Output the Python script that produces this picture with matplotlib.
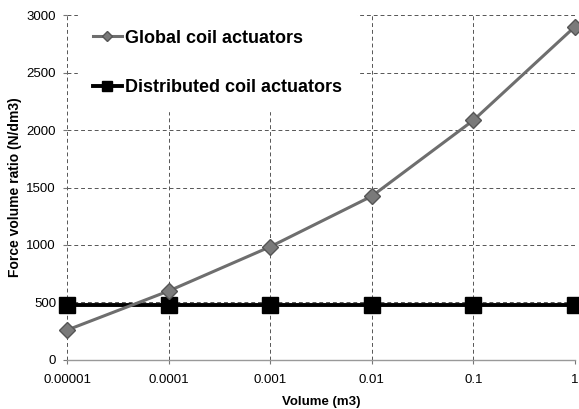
"""
Force volume ratio vs. actuator volume — global vs. distributed coil actuators.
"""

import matplotlib
matplotlib.use("Agg")
import matplotlib.pyplot as plt

# ── Data ──────────────────────────────────────────────────────────────────────
VOLUMES = [0.00001, 0.0001, 0.001, 0.01, 0.1, 1]
X_TICK_LABELS = ["0.00001", "0.0001", "0.001", "0.01", "0.1", "1"]
GLOBAL_RATIO = [260, 600, 985, 1425, 2085, 2900]
DISTRIBUTED_RATIO = [480, 480, 480, 480, 480, 480]
Y_TICKS = [0, 500, 1000, 1500, 2000, 2500, 3000]

plt.rcParams["font.family"] = ["Liberation Sans", "DejaVu Sans"]

fig = plt.figure(figsize=(5.79, 4.09), dpi=100)
ax = fig.add_axes([0.116, 0.12, 0.877, 0.843])

ax.plot(VOLUMES, GLOBAL_RATIO, color="#6e6e6e", lw=2.2, marker="D",
        ms=8, mfc="#7a7a7a", mec="#555555", clip_on=False, zorder=4,
        label="Global coil actuators")
ax.plot(VOLUMES, DISTRIBUTED_RATIO, color="black", lw=2.8, marker="s",
        ms=11, mfc="black", mec="black", clip_on=False, zorder=3,
        label="Distributed coil actuators")

ax.set_xscale("log")
ax.set_xlim(VOLUMES[0], VOLUMES[-1])
ax.set_xticks(VOLUMES)
ax.set_xticklabels(X_TICK_LABELS)
ax.minorticks_off()
ax.set_ylim(0, 3000)
ax.set_yticks(Y_TICKS)

# dashed grid, only the bottom axis drawn solid
ax.grid(True, ls=(0, (4, 3)), color="#555555", lw=0.7)
for side in ["top", "right", "left"]:
    ax.spines[side].set_visible(False)
ax.spines["bottom"].set_color("#999999")
ax.spines["bottom"].set_linewidth(1.0)
ax.tick_params(axis="both", labelsize=9.5, length=3, color="#777777")
ax.tick_params(axis="x", pad=7)
ax.tick_params(axis="y", pad=5)

ax.set_xlabel("Volume (m3)", fontsize=9.5, fontweight="bold", labelpad=7)
ax.set_ylabel("Force volume ratio (N/dm3)", fontsize=10, fontweight="bold", labelpad=3)

leg = ax.legend(loc="upper left", bbox_to_anchor=(0.022, 1.0), frameon=True,
                fancybox=False, edgecolor="white", facecolor="white",
                framealpha=1, prop={"size": 13, "weight": "bold"},
                handlelength=1.6, handletextpad=0.2, labelspacing=1.8,
                borderpad=0.8, borderaxespad=0.0, markerscale=0.7)
leg.set_zorder(5)

fig.savefig("out.png", dpi=100)
